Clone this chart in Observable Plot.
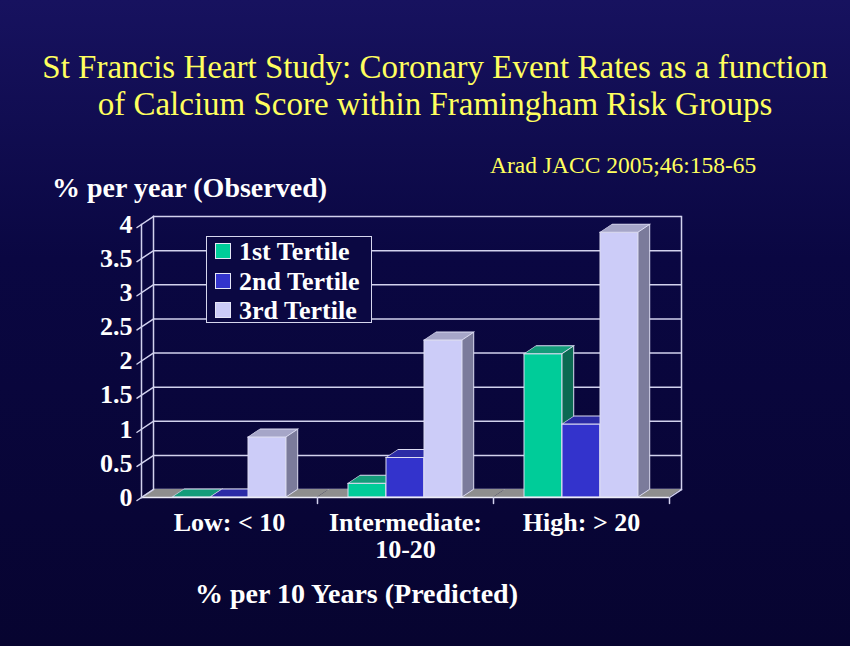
<!DOCTYPE html>
<html><head><meta charset="utf-8">
<script src="https://cdn.jsdelivr.net/npm/d3@7"></script>
<script src="https://cdn.jsdelivr.net/npm/@observablehq/plot@0.6"></script>
<style>
html,body{margin:0;padding:0;background:#0b0840;}
#page{position:relative;width:850px;height:646px;overflow:hidden;background:linear-gradient(#17125f 0%,#0a0742 40%,#070430 100%);font-family:"Liberation Serif","Times New Roman",serif;}
.t{position:absolute;white-space:nowrap;}
#title{left:10px;width:850px;top:49px;text-align:center;color:#ffff5e;font-size:33px;line-height:37px;}
#cite{left:490px;top:154px;color:#ffff5e;font-size:23.5px;line-height:23.5px;}
#ylab{left:52px;top:174px;color:#fff;font-size:28px;font-weight:bold;line-height:28px;}
#xlab{left:195px;top:580px;color:#fff;font-size:28px;font-weight:bold;line-height:28px;}
#legend{position:absolute;left:206px;top:236px;width:164px;height:85px;border:1.5px solid #d6d6ee;background:#0b0842;}
.li{position:absolute;left:8px;height:26px;color:#fff;font-weight:bold;font-size:26px;line-height:26px;white-space:nowrap;}
.sw{display:inline-block;width:14px;height:14px;border:1px solid #e6e6f6;margin-right:8px;vertical-align:1px;}
#chart{position:absolute;left:0;top:200px;}
rect[aria-label="top-face"]{transform-box:fill-box;transform-origin:0 100%;transform:skewX(-56.31deg);}
rect[aria-label="side-face"]{transform-box:fill-box;transform-origin:0 0;transform:translateX(100%) skewY(-33.69deg) scaleX(0.308);vector-effect:non-scaling-stroke;}
</style></head>
<body><div id="page">
<div class="t" id="title">St Francis Heart Study: Coronary Event Rates as a function<br>of Calcium Score within Framingham Risk Groups</div>
<div class="t" id="cite">Arad JACC 2005;46:158-65</div>
<div class="t" id="ylab">% per year (Observed)</div>
<div class="t" id="xlab">% per 10 Years (Predicted)</div>
<div id="chart"></div>
<div id="legend"></div>
</div>
<script>
// ---- data ----
const groups = ["Low: < 10", "Intermediate:\n10-20", "High: > 20"];
const tertiles = ["1st Tertile", "2nd Tertile", "3rd Tertile"];
const tertile1 = [0, 0.2, 2.1];
const tertile2 = [0, 0.58, 1.07];
const tertile3 = [0.88, 2.3, 3.88];
const yTicks = [0, 0.5, 1, 1.5, 2, 2.5, 3, 3.5, 4];
const yTickLabels = ["0", "0.5", "1", "1.5", "2", "2.5", "3", "3.5", "4"];

// ---- styles ----
const frontColors = ["#00cc99", "#3333cc", "#ccccf8"];
const topColors = ["#149c7a", "#2b2ba6", "#a6a6c8"];
const sideColors = ["#0b6a52", "#22228a", "#7b7b9b"];
const floorColor = "#8e8e8e";
const edge = "#dcdcf2";
const gridColor = "#d2d2ee";

const series = [tertile1, tertile2, tertile3];
const rows = [];
groups.forEach((g, i) => tertiles.forEach((t, j) => rows.push({group: g, tertile: t, value: series[j][i]})));

const segment = {draw(ctx, l) { ctx.moveTo(0, 0); ctx.lineTo(0, -l); }};

const marks = [
  // back wall grid
  Plot.ruleY(yTicks, {y: d => d, dx: 12, dy: -8, stroke: gridColor, strokeWidth: 1.5}),
  Plot.frame({anchor: "left", facetAnchor: "left", dx: 12, dy: -8, stroke: gridColor, strokeWidth: 1.5}),
  Plot.frame({anchor: "right", facetAnchor: "right", dx: 12, dy: -8, stroke: gridColor, strokeWidth: 1.5}),
  // floor
  Plot.barY([0], {y1: 0, y2: 0, insetTop: -8, fill: floorColor, ariaLabel: () => "top-face"})
];
tertiles.forEach((t, j) => {
  const f = d => d.tertile === t;
  marks.push(
    Plot.barY(rows, {filter: f, fx: "group", x: "tertile", y: "value", fill: frontColors[j], stroke: edge, strokeWidth: 1}),
    Plot.barY(rows, {filter: f, fx: "group", x: "tertile", y1: "value", y2: "value", insetTop: -8, fill: topColors[j], stroke: edge, strokeWidth: 1, ariaLabel: () => "top-face"}),
    Plot.barY(rows, {filter: f, fx: "group", x: "tertile", y: "value", fill: sideColors[j], stroke: edge, strokeWidth: 1, ariaLabel: () => "side-face"})
  );
});
marks.push(
  Plot.ruleY([0], {y: d => d, stroke: "#ececf8", strokeWidth: 1.5}),
  Plot.frame({anchor: "left", facetAnchor: "left", stroke: gridColor, strokeWidth: 1.5}),
  Plot.vector(yTicks, {fx: () => groups[0], y: d => d, frameAnchor: "left", anchor: "start", length: 20, rotate: 56.3, dx: -4.5, dy: 3, stroke: gridColor, strokeWidth: 1.5, shape: segment}),
  Plot.vector([0], {fx: () => groups[2], y: d => d, frameAnchor: "right", anchor: "start", length: 14.4, rotate: 56.3, stroke: gridColor, strokeWidth: 1.5, shape: segment}),
  Plot.vector(groups, {fx: d => d, y: () => 0, frameAnchor: "right", anchor: "start", length: 6, rotate: 180, stroke: gridColor, strokeWidth: 1.5, shape: segment}),
  Plot.text(groups, {fx: d => d, text: d => d, frameAnchor: "bottom", lineAnchor: "top", dy: 14, lineHeight: 1.04, fill: "white"})
);

const chart = Plot.plot({
  width: 850, height: 380,
  marginLeft: 140, marginRight: 180, marginTop: 24, marginBottom: 83,
  style: {background: "transparent", color: "white", fontFamily: "'Liberation Serif', serif", fontSize: "26px", fontWeight: "bold", overflow: "visible"},
  fx: {domain: groups, padding: 0, axis: null, label: null},
  x: {domain: tertiles, paddingInner: 0, paddingOuter: 0.77, axis: null},
  y: {domain: [0, 4], ticks: yTicks, tickSize: 0, tickPadding: 9, tickFormat: d => yTickLabels[yTicks.indexOf(d)], label: null},
  marks
});
document.getElementById("chart").appendChild(chart);

// legend
const lg = document.getElementById("legend");
tertiles.forEach((t, j) => {
  const d = document.createElement("div");
  d.className = "li";
  d.style.top = (2 + j * 29.5) + "px";
  d.innerHTML = `<span class="sw" style="background:${frontColors[j]}"></span>${t}`;
  lg.appendChild(d);
});
</script>
</body></html>
